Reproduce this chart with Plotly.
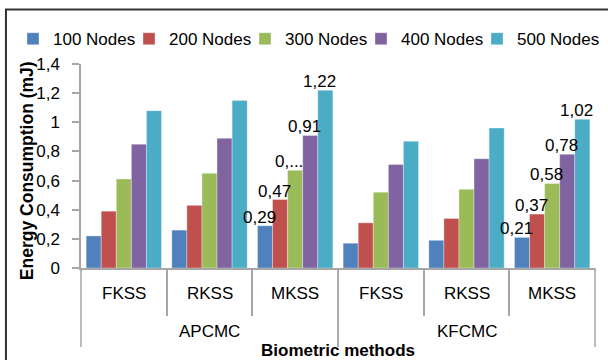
import plotly.graph_objects as go

# Two clustering schemes, each with three biometric methods
groups = ["APCMC", "APCMC", "APCMC", "KFCMC", "KFCMC", "KFCMC"]
methods = ["FKSS", "RKSS", "MKSS", "FKSS", "RKSS", "MKSS"]
group_names = ["APCMC", "KFCMC"]

series_names = ["100 Nodes", "200 Nodes", "300 Nodes", "400 Nodes", "500 Nodes"]
nodes_100 = [0.22, 0.26, 0.29, 0.17, 0.19, 0.21]
nodes_200 = [0.39, 0.43, 0.47, 0.31, 0.34, 0.37]
nodes_300 = [0.61, 0.65, 0.67, 0.52, 0.54, 0.58]
nodes_400 = [0.85, 0.89, 0.91, 0.71, 0.75, 0.78]
nodes_500 = [1.08, 1.15, 1.22, 0.87, 0.96, 1.02]
series_values = [nodes_100, nodes_200, nodes_300, nodes_400, nodes_500]

colors = ["#4F81BD", "#C0504D", "#9BBB59", "#8064A2", "#4BACC6"]

# Value labels appear on the MKSS bars only; one label is cut short
labelled = {2, 5}
truncated = {(2, 2): "0,..."}


def fmt(v):
    return f"{v:.2f}".replace(".", ",")


FONT = "Liberation Sans, Arial, sans-serif"
AXIS_GREY = "#A6A6A6"

W, H = 608, 360
M_L, M_R, M_T, M_B = 81, 13, 64, 92
BARGAP = 0.12

plot_w = W - M_L - M_R
n_cat = len(methods)
n_ser = len(series_names)
bar_px = plot_w / n_cat * (1 - BARGAP) / n_ser

fig = go.Figure()
for si, (name, vals, col) in enumerate(zip(series_names, series_values, colors)):
    fig.add_trace(go.Bar(
        name=name,
        x=[groups, methods],
        y=vals,
        marker=dict(color=col, line=dict(color="rgba(255,255,255,0.55)", width=0.6)),
        # tight legend entries; the last one keeps room for its full text
        legendwidth=71 if si < n_ser - 1 else 86,
        hoverinfo="skip",
    ))

# Value labels drawn above every bar so neighbouring bars never cover them
for si, vals in enumerate(series_values):
    for i, v in enumerate(vals):
        if i not in labelled:
            continue
        fig.add_annotation(
            text=truncated.get((si, i), fmt(v)),
            xref="paper", yref="y",
            x=(i + 0.5) / n_cat, y=v,
            xshift=(si - (n_ser - 1) / 2) * bar_px - 6,
            yshift=-3,
            xanchor="center", yanchor="bottom",
            showarrow=False,
            font=dict(family=FONT, size=17, color="#000000"),
        )

fig.update_layout(
    width=W,
    height=H,
    barmode="group",
    bargap=BARGAP,
    bargroupgap=0,
    separators=", ",
    paper_bgcolor="white",
    plot_bgcolor="white",
    margin=dict(l=M_L, r=M_R, t=M_T, b=M_B),
    font=dict(family=FONT, size=17, color="#000000"),
    showlegend=True,
    legend=dict(
        orientation="h",
        x=-0.118, xanchor="left",
        y=1.21, yanchor="top",
        font=dict(family=FONT, size=17),
        bgcolor="rgba(0,0,0,0)",
        tracegroupgap=0,
    ),
    xaxis=dict(
        type="multicategory",
        showline=True,
        linecolor=AXIS_GREY,
        linewidth=1.5,
        ticks="outside",
        tickson="boundaries",
        ticklen=46,
        tickcolor=AXIS_GREY,
        tickwidth=1.5,
        showticklabels=False,
        showgrid=False,
    ),
    yaxis=dict(
        range=[0, 1.4],
        dtick=0.2,
        showline=True,
        linecolor=AXIS_GREY,
        linewidth=1.5,
        ticks="outside",
        ticklen=7,
        tickcolor=AXIS_GREY,
        tickwidth=1.5,
        showgrid=False,
        zeroline=False,
        ticklabelstandoff=9,
        tickfont=dict(family=FONT, size=17),
    ),
)

plot_h = H - M_T - M_B
px_y = lambda px: -px / plot_h  # pixels below the x axis line -> paper y

# Method labels and group labels under the axis
for i, m in enumerate(methods):
    fig.add_annotation(
        text=m, xref="paper", yref="paper",
        x=(i + 0.5) / n_cat, y=px_y(25),
        xanchor="center", yanchor="middle", showarrow=False,
        font=dict(family=FONT, size=17, color="#000000"),
    )
per_group = n_cat // len(group_names)
for g, name in enumerate(group_names):
    fig.add_annotation(
        text=name, xref="paper", yref="paper",
        x=(g + 0.5) / len(group_names), y=px_y(63),
        xanchor="center", yanchor="middle", showarrow=False,
        font=dict(family=FONT, size=17, color="#000000"),
    )
    # group dividers run through both label rows
    for edge in (g * per_group, (g + 1) * per_group):
        fig.add_shape(
            type="line", xref="paper", yref="paper",
            x0=edge / n_cat, x1=edge / n_cat, y0=0, y1=px_y(79),
            line=dict(color=AXIS_GREY, width=1.5),
        )

# Axis titles
fig.add_annotation(
    text="<b>Energy Consumption (mJ)</b>",
    xref="paper", yref="paper",
    x=-0.105, y=0.475, xanchor="center", yanchor="middle",
    textangle=-90, showarrow=False,
    font=dict(family=FONT, size=17.5, color="#000000"),
)
fig.add_annotation(
    text="<b>Biometric methods</b>",
    xref="paper", yref="paper",
    x=0.5, y=px_y(82), xanchor="center", yanchor="middle",
    showarrow=False,
    font=dict(family=FONT, size=17, color="#000000"),
)

# Chart frame
fig.add_shape(
    type="rect", xref="paper", yref="paper",
    x0=-0.146, x1=1.10, y0=-0.60, y1=1.267,
    line=dict(color="#333333", width=2),
    fillcolor="rgba(0,0,0,0)", layer="below",
)

fig.write_html("out.html")
